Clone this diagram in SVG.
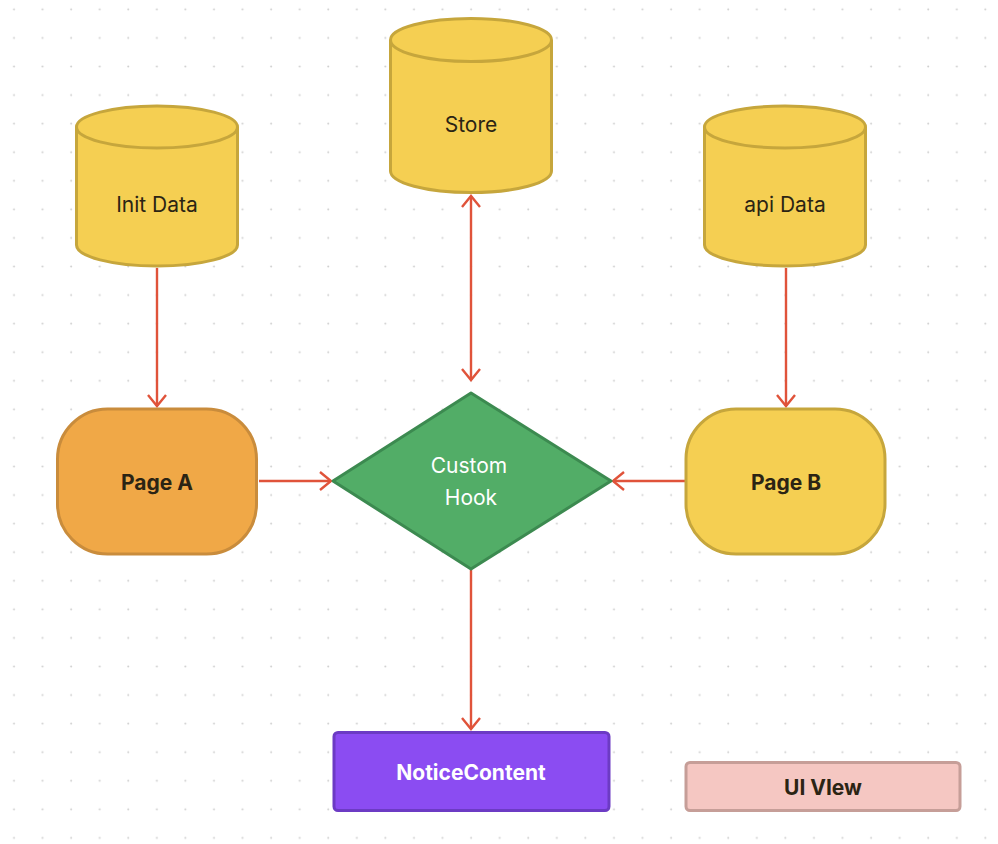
<svg xmlns="http://www.w3.org/2000/svg" width="998" height="844" viewBox="0 0 998 844">
<style>
.lbl{font-family:Inter,"Liberation Sans",sans-serif;font-size:21px;font-weight:400;text-anchor:middle;fill:#2b2414}
.b{font-weight:700}
.w{fill:#ffffff}
.cyl{fill:#f5cf52;stroke:#c6a63c;stroke-width:3}
.edge{stroke:#e0533a;stroke-width:2.4;fill:none}
</style>
<defs>
<pattern id="grid" patternUnits="userSpaceOnUse" x="0" y="0" width="28.57" height="28.57">
<circle cx="14" cy="9.3" r="1" fill="#cfcfcf"/>
</pattern>
<marker id="ah" markerUnits="userSpaceOnUse" viewBox="-13 -11 15 22" refX="0" refY="0" markerWidth="15" markerHeight="22" orient="auto-start-reverse">
<path d="M-11,-9 L0,0 L-11,9" fill="none" stroke="#e0533a" stroke-width="2.4"/>
</marker>
</defs>
<rect width="998" height="844" fill="#ffffff"/>
<rect width="998" height="844" fill="url(#grid)"/>

<g id="connectors">
<line class="edge" x1="157" y1="268" x2="157" y2="406" marker-end="url(#ah)"/>
<line class="edge" x1="786" y1="268" x2="786" y2="406" marker-end="url(#ah)"/>
<line class="edge" x1="471" y1="196" x2="471" y2="380" marker-start="url(#ah)" marker-end="url(#ah)"/>
<line class="edge" x1="259" y1="481" x2="331" y2="481" marker-end="url(#ah)"/>
<line class="edge" x1="685" y1="481" x2="613" y2="481" marker-end="url(#ah)"/>
<line class="edge" x1="471" y1="570" x2="471" y2="729" marker-end="url(#ah)"/>
</g>

<g id="init-data">
<path class="cyl" d="M76.5,127 A80.5,21 0 0 1 237.5,127 L237.5,245 A80.5,21 0 0 1 76.5,245 Z"/>
<path class="cyl" d="M76.5,127 A80.5,21 0 0 0 237.5,127" fill="none"/>
<text class="lbl" x="157" y="212">Init Data</text>
</g>

<g id="store">
<path class="cyl" d="M390.5,40 A80.5,21.5 0 0 1 551.5,40 L551.5,171 A80.5,21.5 0 0 1 390.5,171 Z"/>
<path class="cyl" d="M390.5,40 A80.5,21.5 0 0 0 551.5,40" fill="none"/>
<text class="lbl" x="471" y="132">Store</text>
</g>

<g id="api-data">
<path class="cyl" d="M704.5,127 A80.5,21 0 0 1 865.5,127 L865.5,245 A80.5,21 0 0 1 704.5,245 Z"/>
<path class="cyl" d="M704.5,127 A80.5,21 0 0 0 865.5,127" fill="none"/>
<text class="lbl" x="785" y="212">api Data</text>
</g>

<g id="page-a">
<rect x="57.5" y="409" width="199" height="145" rx="50" fill="#f0a847" stroke="#c98c3c" stroke-width="3"/>
<text class="lbl b" x="157" y="490">Page A</text>
</g>

<g id="page-b">
<rect x="686" y="409" width="199" height="145" rx="50" fill="#f5cf52" stroke="#c6a63c" stroke-width="3"/>
<text class="lbl b" x="786" y="490">Page B</text>
</g>

<g id="custom-hook">
<path d="M471,393 L611,481 L471,569 L333,481 Z" fill="#52ad67" stroke="#3c8a50" stroke-width="3" stroke-linejoin="round"/>
<text class="lbl w" x="469" y="473">Custom</text>
<text class="lbl w" x="471" y="505">Hook</text>
</g>

<g id="notice-content">
<rect x="334" y="732.5" width="275" height="78" rx="4" fill="#8b4cf2" stroke="#6c3bc4" stroke-width="3"/>
<text class="lbl b w" x="471" y="780">NoticeContent</text>
</g>

<g id="ui-view">
<rect x="686" y="762.5" width="274" height="48" rx="4" fill="#f5c7c2" stroke="#c69e98" stroke-width="3"/>
<text class="lbl b" x="823" y="795">UI VIew</text>
</g>
</svg>
